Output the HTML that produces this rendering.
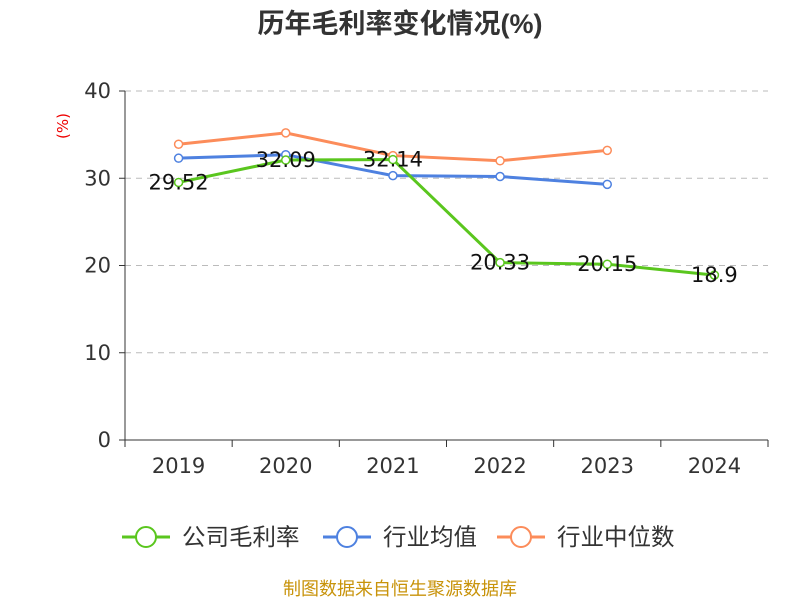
<!DOCTYPE html>
<html><head><meta charset="utf-8"><style>
body{margin:0;background:#fff;font-family:"DejaVu Sans","Noto Sans CJK SC",sans-serif}
</style></head><body>
<svg id="chart" width="800" height="600" style="font-family:'DejaVu Sans','Noto Sans CJK SC',sans-serif">
<text x="400" y="33" text-anchor="middle" font-size="27" font-weight="bold" fill="#333" font-family="'Liberation Sans','Noto Sans CJK SC',sans-serif">历年毛利率变化情况(%)</text>
<text x="68" y="126" text-anchor="middle" font-size="15" fill="#e00" transform="rotate(-90 68 126)">(%)</text>
<g id="grid"></g><g id="axes"></g><g id="series"></g>
<g id="legend"></g>
<text x="400" y="595" text-anchor="middle" font-size="18" fill="#c8930a">制图数据来自恒生聚源数据库</text>
</svg>
<script>
const categories=["2019","2020","2021","2022","2023","2024"];
const companyValues=[29.52,32.09,32.14,20.33,20.15,18.9];
const industryAvg=[32.3,32.7,30.3,30.2,29.3,null];
const industryMedian=[33.9,35.2,32.6,32.0,33.2,null];
const yTicks=[0,10,20,30,40];
const NS="http://www.w3.org/2000/svg";
const x0=125,x1=768,y0=440,y1=91,ymax=40;
const bw=(x1-x0)/categories.length;
const X=i=>x0+bw*(i+0.5);
const Y=v=>y0-(v/ymax)*(y0-y1);
function mk(tag,attrs,parent){const e=document.createElementNS(NS,tag);for(const k in attrs)e.setAttribute(k,attrs[k]);parent.appendChild(e);return e;}
const grid=document.getElementById('grid'),axes=document.getElementById('axes'),ser=document.getElementById('series'),leg=document.getElementById('legend');
yTicks.forEach(t=>{
 if(t>0){const l=mk('line',{x1:x0,x2:x1,y1:Y(t),y2:Y(t),stroke:'#bbb','stroke-dasharray':'6,5'},grid);
 }
 const tk=mk('line',{x1:x0-6,x2:x0,y1:Y(t),y2:Y(t),stroke:'#333'},axes);
 
 const tx=mk('text',{x:x0-14,y:Y(t)+7,'text-anchor':'end','font-size':21,fill:'#333'},axes);tx.textContent=t;
 
});
let a=mk('line',{x1:x0,x2:x0,y1:y1,y2:y0,stroke:'#333'},axes);
a=mk('line',{x1:x0,x2:x1,y1:y0,y2:y0,stroke:'#333'},axes);
for(let i=0;i<=categories.length;i++){const t=mk('line',{x1:x0+bw*i,x2:x0+bw*i,y1:y0,y2:y0+7,stroke:'#333'},axes);
 }
categories.forEach((c,i)=>{const t=mk('text',{x:X(i),y:y0+33,'text-anchor':'middle','font-size':21,fill:'#333'},axes);t.textContent=c;
 });
function drawSeries(vals,color,name,labels){
 const g=mk('g',{},ser);
 const pts=vals.map((v,i)=>v==null?null:[X(i),Y(v)]).filter(p=>p);
 const p=mk('polyline',{points:pts.map(p=>p.join(',')).join(' '),fill:'none',stroke:color,'stroke-width':3},g);
 
 vals.forEach((v,i)=>{if(v==null)return;
  const c=mk('circle',{cx:X(i),cy:Y(v),r:4,fill:'#fff',stroke:color,'stroke-width':1.5},g);
  
  if(labels){const t=mk('text',{x:X(i),y:Y(v)+7,'text-anchor':'middle','font-size':21,fill:'#111'},g);t.textContent=v;
   }
 });
}
drawSeries(industryMedian,'#fc8c5a','industry-median',false);
drawSeries(industryAvg,'#4e81e0','industry-average',false);
drawSeries(companyValues,'#5ac61e','company-margin',true);
[["公司毛利率","#5ac61e",122],["行业均值","#4e81e0",323],["行业中位数","#fc8c5a",497]].forEach(([n,c,x])=>{
 const g=mk('g',{},leg);
 mk('line',{x1:x,x2:x+48,y1:537,y2:537,stroke:c,'stroke-width':3},g);
 mk('circle',{cx:x+24,cy:537,r:10,fill:'#fff',stroke:c,'stroke-width':2},g);
 const t=mk('text',{x:x+60,y:545,'font-size':23.5,fill:'#333'},g);t.textContent=n;
});
</script>
</body></html>
